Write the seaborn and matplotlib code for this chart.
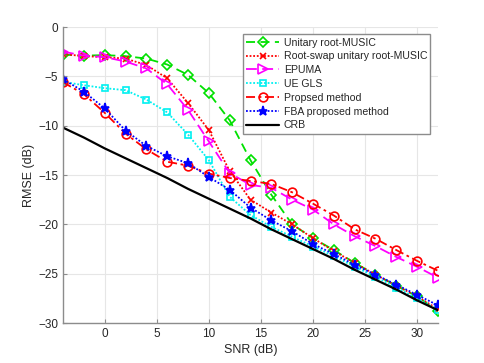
import matplotlib
matplotlib.use("Agg")
import matplotlib.pyplot as plt
import seaborn as sns
import pandas as pd

snr = [-4, -2, 0, 2, 4, 6, 8, 10, 12, 14, 16, 18, 20, 22, 24, 26, 28, 30, 32]

unitary_root_music = [-2.8, -2.9, -2.85, -2.95, -3.2, -3.8, -4.85, -6.7, -9.45, -13.5,
                      -17.0, -20.0, -21.4, -22.6, -23.9, -25.1, -26.2, -27.3, -28.8]
root_swap = [-2.75, -2.95, -3.05, -3.2, -3.85, -5.2, -7.7, -10.45, -14.6, -17.5,
             -18.8, -20.0, -21.4, -22.7, -23.9, -25.1, -26.2, -27.3, -28.6]
epuma = [-2.5, -2.9, -3.05, -3.5, -4.2, -5.8, -8.4, -11.6, -14.8, -16.0,
         -16.3, -17.5, -18.5, -20.0, -21.2, -22.2, -23.3, -24.3, -25.4]
ue_gls = [-5.55, -5.9, -6.2, -6.4, -7.35, -8.65, -10.9, -13.5, -17.2, -19.05,
          -20.25, -21.25, -22.25, -23.2, -24.3, -25.3, -26.4, -27.5, -28.7]
proposed = [-5.6, -6.8, -8.7, -10.8, -12.4, -13.65, -14.05, -14.85, -15.3, -15.6,
            -15.9, -16.75, -17.9, -19.1, -20.5, -21.45, -22.6, -23.7, -24.7]
fba_proposed = [-5.3, -6.55, -8.25, -10.5, -12.05, -13.1, -13.8, -15.2, -16.5, -18.3,
                -19.6, -20.7, -22.0, -23.0, -24.1, -25.1, -26.1, -27.15, -28.2]
crb = [-10.2, -11.2, -12.3, -13.3, -14.3, -15.3, -16.4, -17.4, -18.4, -19.4,
       -20.5, -21.5, -22.5, -23.5, -24.6, -25.6, -26.6, -27.7, -28.7]

labels = ["Unitary root-MUSIC", "Root-swap unitary root-MUSIC", "EPUMA", "UE GLS",
          "Propsed method", "FBA proposed method", "CRB"]

sns.set_style("white")
plt.rcParams['font.family'] = ['Liberation Sans', 'DejaVu Sans']

fig = plt.figure(figsize=(4.85, 3.63), dpi=100)
ax = fig.add_axes([0.130, 0.110, 0.773, 0.8156])

series = [
    (unitary_root_music, dict(color="#00e000", linestyle=(0, (5, 3)), marker="D",
                              markersize=5.2, markerfacecolor="none")),
    (root_swap, dict(color="#ff0000", linestyle=(0, (1, 1)), marker="x",
                     markersize=4.5)),
    (epuma, dict(color="#ff00ff", linestyle=(0, (6, 3)), marker=">",
                 markersize=7, markerfacecolor="none")),
    (ue_gls, dict(color="#00f0f0", linestyle=(0, (1, 1)), marker="s",
                  markersize=4.8, markerfacecolor="none")),
    (proposed, dict(color="#ff0000", linestyle=(0, (5, 2, 1.5, 2)), marker="o",
                    markersize=6.3, markerfacecolor="none")),
    (fba_proposed, dict(color="#0000ff", linestyle=(0, (1, 1)), marker="*",
                        markersize=6.5, markerfacecolor="#0000ff")),
    (crb, dict(color="black", linestyle="-", linewidth=1.6)),
]

for (vals, style), lab in zip(series, labels):
    df = pd.DataFrame({"SNR": snr, "RMSE": vals})
    kw = dict(linewidth=1.3, markeredgecolor=style["color"], markeredgewidth=1.2)
    kw.update(style)
    sns.lineplot(data=df, x="SNR", y="RMSE", ax=ax, label=lab, **kw)

ax.set_xlim(-4, 32)
ax.set_ylim(-30, 0)
ax.set_xticks([0, 5, 10, 15, 20, 25, 30])
ax.set_yticks([-30, -25, -20, -15, -10, -5, 0])
ax.grid(True, color="#e6e6e6", linewidth=0.8)
ax.set_axisbelow(True)
for s in ["top", "right"]:
    ax.spines[s].set_visible(False)
for s in ["left", "bottom"]:
    ax.spines[s].set_color("#8c8c8c")
    ax.spines[s].set_linewidth(1.0)
ax.tick_params(direction="in", length=3, color="#8c8c8c", labelsize=8.5,
               labelcolor="#262626", left=True, bottom=True)
ax.set_xlabel("SNR (dB)", fontsize=9, color="#262626", labelpad=3)
ax.set_ylabel("RMSE (dB)", fontsize=9, color="#262626", labelpad=2)

leg = ax.legend(loc="upper right", bbox_to_anchor=(0.98, 0.975), fontsize=7.6,
                frameon=True, fancybox=False, handlelength=3.1, borderpad=0.3,
                labelspacing=0.36, handletextpad=0.45, borderaxespad=0.0)
leg.get_frame().set_edgecolor("#8c8c8c")
leg.get_frame().set_linewidth(1.0)
leg.get_frame().set_alpha(1)

fig.savefig("out.png", dpi=100, facecolor="white")
